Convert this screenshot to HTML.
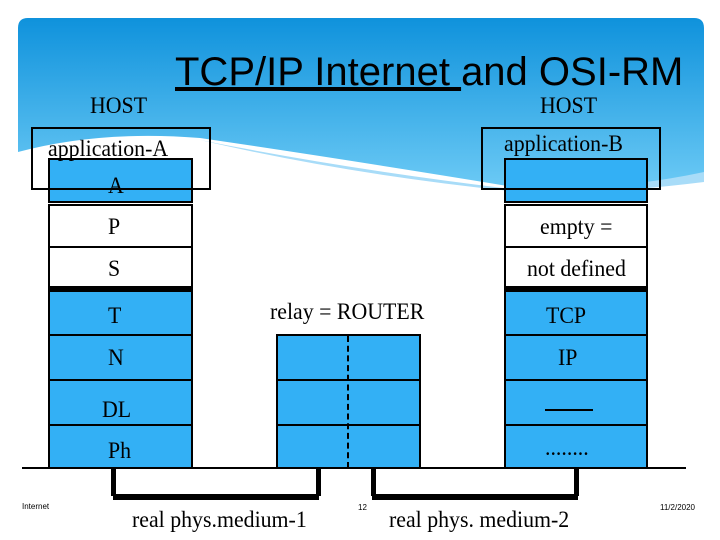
<!DOCTYPE html>
<html><head><meta charset="utf-8"><style>
body{margin:0;width:720px;height:540px;background:#fff;overflow:hidden;position:relative;font-family:"Liberation Serif",serif}
.t{position:absolute;white-space:nowrap;color:#000}
.s{font-family:"Liberation Serif",serif;font-size:23px;transform:scaleX(0.95);transform-origin:left}
.l{position:absolute;box-sizing:border-box;border:2px solid #000}
.b{background:#33b0f5}
</style></head><body>
<svg width="720" height="540" style="position:absolute;left:0;top:0">
<defs><linearGradient id="g" x1="0" y1="0" x2="0" y2="1"><stop offset="0" stop-color="#0f92dc"/><stop offset="1" stop-color="#6ccaf5"/></linearGradient></defs>
<path d="M18,28 Q18,18 28,18 L694,18 Q704,18 704,28 L704,180 Q600,190 520,188 Q350,160 200,138 Q100,130 18,152 Z" fill="url(#g)"/>
<path d="M200,140 Q350,170 520,190 Q620,190 704,172 L704,182 Q600,195 520,192 Q350,175 200,140Z" fill="#a8dcf8"/>
<line x1="22" y1="468" x2="686" y2="468" stroke="#000" stroke-width="2"/>
<rect x="111" y="468" width="5" height="28" fill="#000"/><rect x="316" y="468" width="5" height="28" fill="#000"/>
<rect x="371" y="468" width="5" height="28" fill="#000"/><rect x="574" y="468" width="5" height="28" fill="#000"/>
<rect x="113" y="494" width="206" height="6" fill="#000"/><rect x="372" y="494" width="206" height="6" fill="#000"/>
</svg>
<div class="l b" style="left:48px;top:158px;width:145px;height:45px"></div>
<div class="l" style="left:48px;top:204px;width:145px;height:44px;background:#fff"></div>
<div class="l" style="left:48px;top:246px;width:145px;height:44px;background:#fff;border-bottom:4px solid #000"></div>
<div class="l b" style="left:48px;top:290px;width:145px;height:46px"></div>
<div class="l b" style="left:48px;top:334px;width:145px;height:47px"></div>
<div class="l b" style="left:48px;top:379px;width:145px;height:47px"></div>
<div class="l b" style="left:48px;top:424px;width:145px;height:45px"></div>
<div class="l b" style="left:504px;top:158px;width:144px;height:45px"></div>
<div class="l" style="left:504px;top:204px;width:144px;height:44px;background:#fff"></div>
<div class="l" style="left:504px;top:246px;width:144px;height:44px;background:#fff;border-bottom:4px solid #000"></div>
<div class="l b" style="left:504px;top:290px;width:144px;height:46px"></div>
<div class="l b" style="left:504px;top:334px;width:144px;height:47px"></div>
<div class="l b" style="left:504px;top:379px;width:144px;height:47px"></div>
<div class="l b" style="left:504px;top:424px;width:144px;height:45px"></div>
<div class="l b" style="left:276px;top:334px;width:145px;height:47px"></div>
<div class="l b" style="left:276px;top:379px;width:145px;height:47px"></div>
<div class="l b" style="left:276px;top:424px;width:145px;height:45px"></div>
<div style="position:absolute;left:347px;top:336px;height:132px;border-left:2px dashed #000"></div>
<div class="l" style="left:31px;top:127px;width:180px;height:63px"></div>
<div class="l" style="left:481px;top:127px;width:180px;height:63px"></div>
<div class="t" style="left:175px;top:50px;font-family:'Liberation Sans',sans-serif;font-size:40px"><span style="text-decoration:underline">TCP/IP Internet </span>and OSI-RM</div>
<div class="t s" style="left:90px;top:93px">HOST</div>
<div class="t s" style="left:540px;top:93px">HOST</div>
<div class="t s" style="left:48px;top:136px">application-A</div>
<div class="t s" style="left:504px;top:131px">application-B</div>
<div class="t s" style="left:108px;top:173px">A</div>
<div class="t s" style="left:108px;top:214px">P</div>
<div class="t s" style="left:108px;top:256px">S</div>
<div class="t s" style="left:108px;top:303px">T</div>
<div class="t s" style="left:108px;top:345px">N</div>
<div class="t s" style="left:102px;top:397px">DL</div>
<div class="t s" style="left:108px;top:438px">Ph</div>
<div class="t s" style="left:540px;top:214px">empty =</div>
<div class="t s" style="left:527px;top:256px">not defined</div>
<div class="t s" style="left:546px;top:303px">TCP</div>
<div class="t s" style="left:558px;top:345px">IP</div>
<div style="position:absolute;left:545px;top:409px;width:48px;border-top:2px solid #000"></div>
<div class="t s" style="left:545px;top:435px">........</div>
<div class="t s" style="left:270px;top:299px">relay = ROUTER</div>
<div class="t s" style="left:132px;top:507px">real phys.medium-1</div>
<div class="t s" style="left:389px;top:507px">real phys. medium-2</div>
<div class="t" style="left:22px;top:502px;font-family:'Liberation Sans',sans-serif;font-size:8px">Internet</div>
<div class="t" style="left:358px;top:503px;font-family:'Liberation Sans',sans-serif;font-size:8px">12</div>
<div class="t" style="left:660px;top:503px;font-family:'Liberation Sans',sans-serif;font-size:8px">11/2/2020</div>
</body></html>
